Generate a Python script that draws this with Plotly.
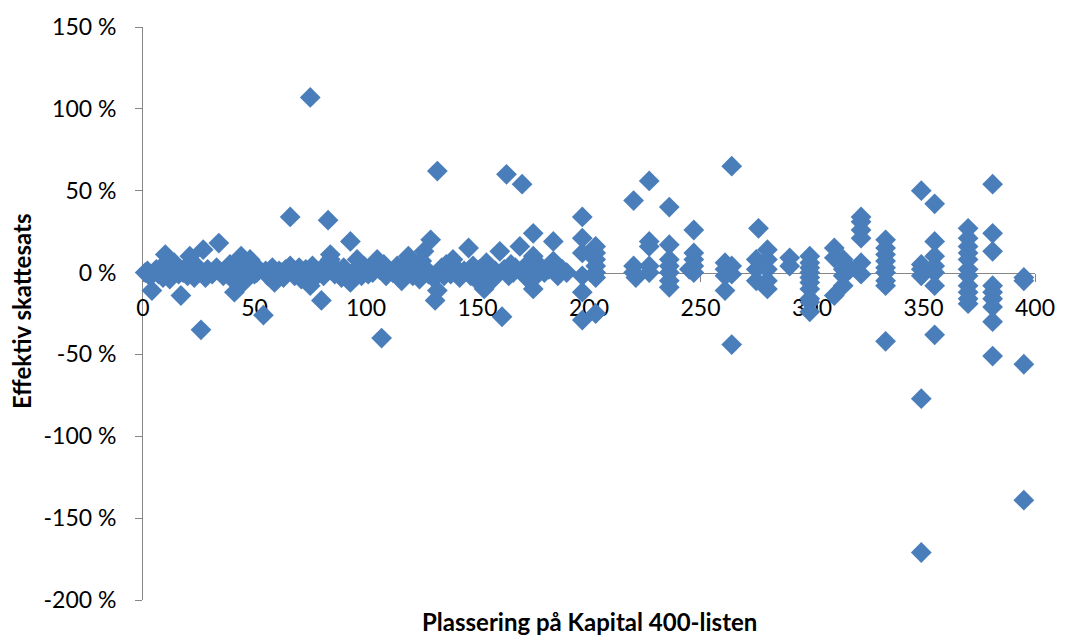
import plotly.graph_objects as go

# Rank on the Kapital 400 list and effective tax rate (%) for each owner
rank = [
    1, 2, 3, 4, 5, 6, 7, 8, 9, 10, 11, 12, 13, 14, 15, 16, 17, 18, 19, 20,
    21, 22, 23, 24, 25, 26, 27, 28, 29, 30, 31, 32, 33, 34, 35, 36, 38, 39, 40, 41,
    42, 43, 44, 45, 46, 47, 48, 49, 50, 51, 52, 54, 55, 56, 57, 58, 59, 60, 61, 62,
    63, 64, 66, 66, 67, 68, 69, 70, 71, 72, 73, 75, 75, 76, 77, 78, 79, 80, 81, 82,
    83, 84, 84, 85, 86, 87, 88, 89, 90, 91, 93, 93, 94, 96, 97, 98, 99, 100,
    101, 102, 103, 105, 106, 107, 108, 109, 110, 112, 114, 115, 116, 117, 118, 119,
    120, 121, 122, 123, 124, 125, 126, 127, 128, 129, 130, 131, 132, 132, 133, 134,
    135, 136, 137, 138, 139, 140, 141, 142, 144, 146, 147, 148, 149, 150, 151, 152,
    153, 154, 155, 156, 157, 158, 160, 161, 162, 163, 164, 165, 166, 167, 169, 170,
    171, 172, 173, 175, 175, 175, 176, 177, 178, 180, 182, 184, 184, 185, 186, 188, 190,
    197, 197, 197, 197, 197, 197, 203, 203, 203, 203, 203, 203, 203,
    220, 220, 220, 221, 227, 227, 227, 227, 227, 236, 236, 236, 236, 236, 236, 236,
    245, 247, 247, 247, 247, 247, 261, 261, 261, 261, 264, 264, 264, 264,
    275, 275, 275, 276, 280, 280, 280, 280, 280, 290, 290,
    299, 299, 299, 299, 299, 299, 299, 299, 299, 299,
    310, 310, 310, 314, 314, 314, 314, 317, 322, 322, 322, 322, 322, 322,
    333, 333, 333, 333, 333, 333, 333, 333, 333,
    349, 349, 349, 349, 349, 349, 355, 355, 355, 355, 355, 355, 355,
    370, 370, 370, 370, 370, 370, 370, 370, 370, 370, 370,
    381, 381, 381, 381, 381, 381, 381, 381, 381, 395, 395, 395, 395,
]
tax_rate = [
    0, 1, -2, -11, 0, 2, -1, 3, -3, 11, 1, -4, 0, 6, 2, -1, -14, 0, 3, -2,
    10, 1, -3, 4, 0, -35, 14, -3, 2, 0, -1, 1, 3, 18, 0, -2, 2, 5, -4, -12,
    1, 4, 10, -6, 0, 3, 8, 2, -1, 0, 2, -26, 1, -2, 0, 3, -6, -1, 1, 0,
    -3, 2, 34, 4, 0, -2, 1, 3, -4, 0, 2, 107, -8, 4, -3, 1, 0, -17, -2, 5,
    32, 11, 8, 1, -1, 2, 0, -3, 3, 1, 19, -6, 0, 8, 2, -2, 4, 1,
    -1, 3, 0, 8, 2, -40, 5, -2, 1, 0, 4, -3, -5, 2, 6, 10,
    0, -2, 3, 1, -4, 7, 13, 2, -1, 20, -3, -17, 62, -11, 0, 3,
    -2, 5, 1, -1, 8, 0, 2, -3, 1, 15, -2, 4, 0, -5, 2, -1,
    -10, 6, 0, 3, -4, 1, 13, -27, 2, 60, -2, 5, 0, 3, 16, 54,
    1, -3, 6, 24, 10, -10, 2, -1, 4, 0, 2, 19, 7, 1, -2, 2, 0,
    34, 21, 12, -2, -12, -29, 16, 12, 8, 4, 0, -3, -25,
    44, 4, 0, -3, 56, 19, 16, 4, 0, 40, 17, 8, 4, 0, -5, -9,
    2, 26, 12, 8, 4, 0, 6, 2, -2, -11, 65, 4, -1, -44,
    8, 2, -5, 27, 14, 8, 2, -5, -10, 9, 4,
    10, 6, 3, 0, -3, -6, -10, -16, -18, -24,
    15, 9, -14, 8, 2, -2, -8, 2, 34, 31, 26, 21, 6, -1,
    20, 15, 11, 7, 3, 0, -5, -8, -42,
    50, 5, 2, -2, -77, -171, 42, 19, 10, 4, 0, -8, -38,
    27, 21, 16, 12, 8, 2, -2, -8, -12, -16, -19,
    54, 24, 13, -8, -12, -16, -21, -30, -51, -3, -5, -56, -139,
]

y_tick_vals = [-200, -150, -100, -50, 0, 50, 100, 150]
y_tick_text = ["-200 %", "-150 %", "-100 %", "-50 %", "0 %", "50 %", "100 %", "150 %"]
x_tick_vals = [0, 50, 100, 150, 200, 250, 300, 350, 400]

axis_grey = "#868686"
marker_blue = "#4A7EBB"
font_family = "Lato, 'Open Sans', sans-serif"

fig = go.Figure(
    go.Scatter(
        x=rank,
        y=tax_rate,
        mode="markers",
        marker=dict(symbol="diamond", size=16, color=marker_blue, line=dict(width=0)),
        cliponaxis=False,
        hoverinfo="x+y",
    )
)

y_min, y_max = -200, 150

fig.update_layout(
    width=1067,
    height=635,
    margin=dict(l=143, r=27, t=25, b=35),
    paper_bgcolor="white",
    plot_bgcolor="white",
    showlegend=False,
    font=dict(family=font_family, color="black"),
    xaxis=dict(
        range=[0, 400],
        tickvals=x_tick_vals,
        ticks="outside",
        ticklen=8,
        tickcolor=axis_grey,
        showline=True,
        linecolor=axis_grey,
        linewidth=1,
        showgrid=False,
        zeroline=False,
        anchor="free",
        position=(0 - y_min) / (y_max - y_min),
        tickfont=dict(size=23, family=font_family),
        ticklabelstandoff=7,
        layer="below traces",
    ),
    yaxis=dict(
        range=[y_min, y_max],
        tickvals=y_tick_vals,
        ticktext=y_tick_text,
        ticks="outside",
        ticklen=7,
        tickcolor=axis_grey,
        showline=True,
        linecolor=axis_grey,
        linewidth=1,
        showgrid=False,
        zeroline=False,
        tickfont=dict(size=23, family=font_family),
        ticklabelstandoff=14,
        layer="below traces",
    ),
    annotations=[
        dict(
            text="<b>Plassering på Kapital 400-listen</b>",
            xref="paper", yref="paper",
            x=0.5, y=-0.038,
            xanchor="center", yanchor="middle",
            showarrow=False,
            font=dict(size=24, family=font_family),
        ),
        dict(
            text="<b>Effektiv skattesats</b>",
            xref="paper", yref="paper",
            x=-0.137, y=0.504,
            xanchor="center", yanchor="middle",
            textangle=-90,
            showarrow=False,
            font=dict(size=24, family=font_family),
        ),
    ],
)

fig.write_html("out.html")
